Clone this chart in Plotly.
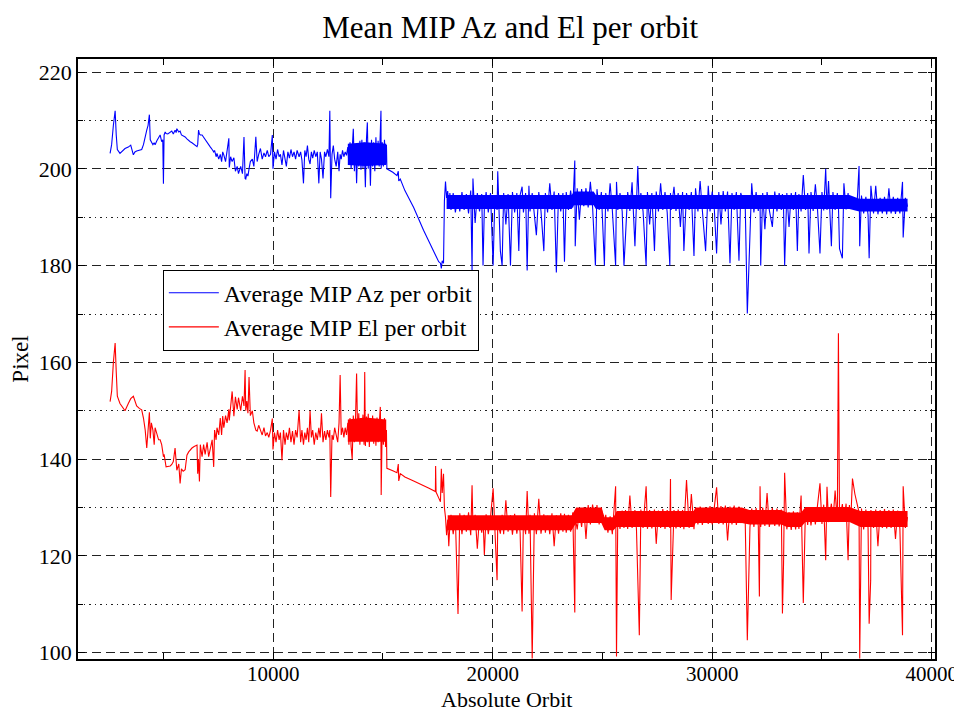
import plotly.graph_objects as go

orbit = [
    2570, 2640, 2720, 2800, 2850, 2900, 3020, 3150, 3250, 3400,
    3510, 3630, 3700, 3780, 3900, 4010, 4090, 4170, 4240, 4300,
    4360, 4400, 4450, 4520, 4580, 4620, 4700, 4780, 4850, 4920,
    4970, 5000, 5030, 5080, 5120, 5200, 5310, 5380, 5450, 5530,
    5580, 5610, 5700, 5760, 5820, 5900, 5990, 6070, 6150, 6220,
    6300, 6400, 6530, 6560, 6600, 6640, 6680, 6760, 6830, 6900,
    6990, 7060, 7140, 7220, 7290, 7330, 7400, 7440, 7520, 7590,
    7650, 7700, 7750, 7830, 7900, 7980, 8000, 8060, 8130, 8210,
    8280, 8360, 8420, 8520, 8600, 8670, 8720, 8750, 8800, 8850,
    8900, 8960, 9050, 9120, 9210, 9270, 9340, 9420, 9500, 9580,
    9650, 9730, 9800, 9880, 9960, 9990, 10060, 10130, 10200, 10270,
    10330, 10400, 10470, 10540, 10600, 10670, 10740, 10810, 10880, 10950,
    11020, 11090, 11180, 11250, 11310, 11380, 11440, 11500, 11560, 11620,
    11680, 11740, 11800, 11870, 11940, 12010, 12080, 12140, 12200, 12270,
    12340, 12400, 12470, 12540, 12580, 12620, 12680, 12740, 12800, 12870,
    12940, 13000, 13050, 13100, 13160, 13220, 13280, 13340, 13400, 13450,
    13500, 13550, 13600, 13650, 13700, 13750, 13800, 13850, 13900, 13950,
    14000, 14040, 14090, 14140, 14170, 14200, 14250, 14290, 14330, 14380,
    14430, 14480, 14530, 14580, 14630, 14680, 14730, 14780, 14830, 14880,
    14910, 14920, 14970, 15020, 15070, 15120, 15160, 15180, 15450, 15640,
    15700, 15720, 15790, 16000, 16400, 16850, 17100, 17390, 17400, 17420,
    17540, 17620, 17660, 17700, 17760, 17800, 17850, 17900, 17950, 18000,
    18050, 18100, 18200, 18300, 18420, 18500, 18600, 18700, 18800, 18900,
    19000, 19060, 19100, 19200, 19300, 19400, 19500, 19560, 19620, 19700,
    19800, 19900, 20020, 20100, 20200, 20230, 20350, 20430, 20500, 20600,
    20700, 20810, 20900, 21000, 21100, 21190, 21250, 21340, 21400, 21500,
    21570, 21650, 21700, 21800, 21900, 21990, 22100, 22200, 22330, 22400,
    22500, 22600, 22700, 22800, 22900, 23000, 23100, 23200, 23270, 23350,
    23450, 23550, 23650, 23740, 23760, 23850, 23950, 24050, 24150, 24250,
    24350, 24450, 24550, 24680, 24750, 24850, 24950, 25090, 25150, 25250,
    25350, 25450, 25600, 25640, 25700, 25800, 25900, 25980, 26050, 26150,
    26250, 26350, 26480, 26550, 26610, 26680, 26750, 26850, 26990, 27050,
    27150, 27250, 27370, 27450, 27550, 27650, 27750, 27850, 27950, 28070,
    28100, 28130, 28260, 28350, 28450, 28550, 28650, 28710, 28830, 28950,
    29050, 29170, 29240, 29350, 29450, 29550, 29700, 29820, 29900, 30000,
    30100, 30200, 30300, 30400, 30500, 30600, 30700, 30810, 30900, 31000,
    31100, 31220, 31300, 31400, 31500, 31600, 31720, 31800, 31900, 32000,
    32100, 32150, 32180, 32210, 32300, 32400, 32500, 32600, 32740, 32850,
    32950, 33050, 33150, 33200, 33250, 33300, 33400, 33500, 33600, 33700,
    33800, 33880, 33950, 34050, 34150, 34250, 34350, 34410, 34500, 34600,
    34700, 34800, 34910, 35000, 35080, 35170, 35230, 35300, 35430, 35500,
    35600, 35700, 35750, 35800, 35930, 36000, 36100, 36190, 36250, 36310,
    36390, 36500, 36600, 36690, 36720, 36800, 36900, 37000, 37100, 37150,
    37220, 37230, 37350, 37450, 37550, 37650, 37750, 37850, 37950, 38050,
    38150, 38250, 38350, 38450, 38550, 38670, 38700, 38800, 38900,
]

az = [
    203.2, 205, 209, 212, 207, 204, 203.2, 203.8, 204.2, 204.5,
    204.9, 202.9, 203.5, 203.7, 203.9, 204, 205, 207, 208, 209,
    211.2, 206, 205.6, 205, 205.4, 205, 205.8, 206.5, 207, 205.6,
    206, 196.9, 207, 207.6, 207.3, 207.2, 207.6, 207.8, 207.2, 208,
    207.5, 208.3, 207.6, 207.8, 207, 206.8, 206.6, 206.2, 205.8, 205.6,
    205.4, 205.1, 204.6, 205, 208, 207.2, 207, 207, 206.5, 206,
    205.6, 205, 204.5, 204, 203.5, 203.8, 202.5, 203.2, 202, 203,
    201.5, 203.5, 202.9, 201.5, 203.5, 206.3, 200.3, 202.5, 201.5, 202.3,
    199.5, 200.5, 199, 200.5, 199, 206.6, 198, 197.9, 199, 198.5,
    200, 201.5, 202, 200.5, 206.6, 201.5, 203, 204.2, 202, 203.3,
    202.5, 203.8, 202.5, 203, 207, 200, 203.5, 202, 204, 202.5,
    203, 200.8, 203.8, 202, 200.5, 203.5, 202.2, 204, 202.5, 203.5,
    202, 203.8, 202.5, 203.5, 201.8, 197, 203.8, 202.5, 204.8, 202,
    201, 203.5, 202.2, 203.8, 202.5, 203.5, 197, 203.5, 202, 198,
    203.5, 202.5, 204, 202.5, 212, 193.9, 203, 204.8, 202, 200.5,
    203.5, 199.5, 203, 202, 203.8, 202.5, 203.5, 202.8, 204.5, 201,
    205.5, 200, 206, 208.3, 199.5, 205, 197, 204.5, 200.5, 205.8,
    199.8, 206, 200.2, 205.5, 201, 196.2, 206.2, 209.6, 200, 205,
    196.5, 206, 200.5, 205.5, 199.5, 206.5, 200.8, 205.8, 200.5, 206,
    212, 200, 205.5, 200.5, 206, 201, 205, 200, 199.3, 198.6,
    199.5, 197.5, 197.9, 195.5, 192, 187.3, 185, 182.2, 182, 182,
    180.8, 180.5, 179.4, 181, 180.5, 193.3, 197.4, 194, 195.4, 192,
    195, 191.5, 195, 191, 194.5, 191.2, 195.2, 191.5, 194.8, 190.8,
    195.5, 179, 198, 188.8, 195, 191.2, 194.8, 180, 192, 195.2,
    191, 195, 180, 194.5, 191.5, 199.5, 183, 180, 195, 188.5,
    194.8, 180, 195.2, 191, 195, 183, 194.6, 196.3, 191, 195,
    179, 196.5, 191.2, 195, 191, 186.3, 195.2, 191.3, 183, 195,
    191, 197, 191.5, 195.3, 178.6, 195, 191.2, 195, 180.8, 195.2,
    191.5, 195.5, 192, 201.7, 184, 196, 189.5, 195.8, 192.3, 196,
    192, 197.3, 192.2, 180, 195.8, 191.5, 195.2, 180, 195, 191.2,
    197, 191.5, 180, 197.3, 191.5, 195, 191.2, 180, 186, 195.2,
    191.3, 197.2, 184, 195.2, 200.6, 191.5, 195, 191.2, 180, 195.2,
    188.5, 195, 183, 195.3, 191.2, 197, 191.5, 195.2, 191, 180,
    195, 191.5, 196.3, 191.3, 195, 188, 195.2, 183, 195, 191.5,
    195.2, 182, 196, 191.2, 197.5, 191.5, 183, 196.5, 191.2, 195.3,
    191.4, 182.5, 195.2, 188.5, 195.4, 191.2, 195.3, 180.5, 195, 191.5,
    195.2, 181, 195, 193.5, 193.5, 170.1, 184, 197, 191, 195.2,
    191.3, 194.5, 193, 180, 195, 187.5, 195.2, 191.5, 188, 195.3,
    191.2, 195, 191.5, 194.8, 192, 180, 195, 188, 195, 191.5,
    195.2, 183, 194.8, 191.2, 198.7, 191.5, 195, 182.5, 195.2, 191.3,
    196.8, 191.5, 182.5, 195.2, 191.4, 200, 191.5, 197.5, 184, 195.2,
    191.5, 195, 192.5, 183.5, 181.5, 197, 191.6, 195, 191.8, 192.8,
    192.8, 192.8, 192.8, 200.6, 184, 194.5, 190.8, 194.2, 190.5, 181.5,
    194, 196.5, 190.8, 196.5, 190.6, 194, 190.8, 194.2, 190.6, 196,
    190.8, 194.2, 190.7, 194, 190.8, 197.3, 185.8, 194, 192.2,
]

el = [
    151.9, 154, 160, 164, 158, 153, 151.5, 150.5, 150, 151.5,
    152.5, 153, 152, 151, 150.5, 150.2, 148.5, 146, 142.3, 147,
    149.7, 144.3, 147.5, 146, 143, 146.5, 145, 144, 144, 143,
    141.5, 140.5, 141, 139.5, 138.4, 138.5, 138.6, 138.9, 139.5, 142.3,
    140, 137.7, 139, 135, 138, 137.5, 137.8, 140.8, 141.5, 142,
    142.3, 142.6, 142.9, 137, 140, 135.4, 143, 140.5, 143, 141,
    143.5, 140.5, 142, 144, 138.4, 146, 144, 146.5, 145, 148.5,
    145, 148.9, 146.5, 149, 147.5, 150.3, 148, 151, 154, 148.9,
    152.9, 150.3, 152.7, 150, 153, 151, 158.4, 150, 152, 149.5,
    157, 149, 150, 147.5, 146, 145.8, 147, 146, 145, 146.5,
    144.8, 145.5, 144.5, 146, 148.4, 142, 145.5, 143.5, 146, 144,
    145.5, 139.8, 146, 143, 145.5, 144, 146.5, 143.5, 145.8, 143,
    146, 144.5, 150.1, 143.5, 146, 143, 145.5, 144, 146.5, 143.5,
    150, 144.5, 146, 143, 145.5, 144, 146.5, 144.5, 149.5, 143.5,
    145.8, 144, 146, 144.5, 146, 132.2, 145, 144, 146.5, 145,
    143.5, 147.5, 157.4, 145, 146.5, 144.5, 146.5, 145, 147.5, 143,
    148.5, 142.5, 140, 149, 143.5, 148, 157.7, 144, 149.5, 143,
    148.5, 144.5, 149.2, 143, 158, 142.7, 148.8, 143.5, 149.4, 142.5,
    148.5, 143.8, 149, 143.2, 148, 142.8, 148.6, 143.5, 149, 150.8,
    143.5, 132.6, 148, 143, 148.5, 142.5, 146, 138.1, 137.6, 137.2,
    139, 135.5, 137, 136.3, 135.5, 134.6, 134, 133.3, 138.6, 133.2,
    132, 131.2, 138, 133, 137, 130, 128, 124.3, 127.5, 122,
    126.5, 128.5, 124.5, 128, 108, 128.8, 124.5, 128.5, 125, 129,
    124.3, 134.6, 126, 128.5, 121.5, 128.2, 124.8, 128, 120.2, 128.6,
    124.5, 128, 134, 124.8, 115, 127, 124.6, 128.5, 124.5, 131.5,
    125, 128.4, 124.4, 128.7, 124.6, 128, 124.8, 108.5, 128, 124.5,
    133.4, 124.6, 128.5, 98.8, 128.8, 124.5, 131.8, 124.6, 128.6, 124.8,
    128.3, 124.5, 128.8, 122, 128.4, 124.6, 128.8, 125, 128.7, 124.8,
    128.5, 125, 129, 108.3, 128, 125.5, 129.5, 126, 130, 123.5,
    130.5, 126.5, 130.6, 126.8, 130.5, 126.5, 130, 126, 128.5, 124.8,
    128.2, 124.5, 134.4, 99.2, 129, 125.6, 129.4, 125.8, 129.5, 125.6,
    132.5, 125.8, 129.5, 125.5, 112.2, 103.6, 129.6, 125.8, 134.4, 125.6,
    129.5, 125.7, 129.6, 122.5, 129.4, 125.8, 129.7, 125.6, 129.5, 125.8,
    135.9, 110.9, 129.5, 125.7, 129.6, 125.8, 129.5, 125.5, 135.7, 125.8,
    132.8, 125.5, 130, 126.5, 130.2, 126.4, 130, 126.6, 130.3, 126.5,
    130.2, 134.2, 126.6, 130.3, 126.5, 130.4, 123.2, 130.2, 126.5, 130.4,
    126.4, 130.2, 126.8, 128.3, 128.3, 102.6, 126, 129.8, 126, 129.9,
    126.2, 111.6, 134.4, 126, 130, 126.2, 133, 126, 129.9, 126.2,
    129.8, 126.1, 129.6, 108.1, 118.4, 137.2, 125.5, 129, 125.4, 129.2,
    125.5, 129, 125.6, 132.5, 110.3, 130, 126.4, 130.1, 126.3, 130,
    126.5, 130.2, 135, 126.6, 130.6, 119.1, 134.3, 127, 130.8, 127.2,
    133.5, 127, 166, 127.2, 130.7, 127.1, 130.8, 119.1, 130.5, 127,
    136, 132.8, 130.6, 129, 98.8, 129.8, 125.5, 129.6, 125.8, 106,
    115, 129.5, 125.8, 129.6, 122, 129.5, 125.8, 129.7, 125.7, 129.5,
    125.8, 129.6, 123.5, 129.4, 125.7, 103.6, 134.4, 125.8, 128,
]

# solid core of the noisy bands (per-orbit scatter too dense to draw point by point)
az_core_orbit = [17900, 23600, 23700, 24600, 24700, 31300, 31700, 36250, 36700, 38900]
az_core_lo = [191.7, 191.7, 192.5, 192.5, 191.7, 191.7, 191.7, 191.7, 191.2, 191.2]
az_core_hi = [194.6, 194.6, 195.3, 195.3, 194.6, 194.6, 194.6, 194.6, 193.8, 193.8]
az_dense_orbit = [13400, 14200, 15150]
az_dense_lo = [200.8, 200.6, 200.8]
az_dense_hi = [205.2, 205.5, 205.2]

el_core_orbit = [17950, 23600, 23800, 24950, 25100, 25500, 25650, 29150, 29250,
                 31350, 31700, 33150, 33400, 34050, 34250, 36250, 36750, 38900]
el_core_lo = [125.3, 125.3, 126.8, 126.8, 125.3, 125.3, 126, 126, 126.8,
              126.8, 126.5, 126.5, 126, 126, 127, 127, 126, 126]
el_core_hi = [128.4, 128.4, 130, 130, 128, 128, 129.3, 129.3, 130,
              130, 129.5, 129.5, 129, 129, 130.1, 130.1, 129.3, 129.3]
el_dense_orbit = [13400, 14200, 15150]
el_dense_lo = [143.6, 143.6, 143.6]
el_dense_hi = [148.2, 148.6, 148.2]

assert len(orbit) == len(az) == len(el)

serif = "Liberation Serif"
BLUE = "#0000ff"
RED = "#ff0000"


def core(xs, lo, hi, color):
    return go.Scatter(x=xs + xs[::-1], y=hi + lo[::-1], mode="lines", fill="toself",
                      fillcolor=color, line=dict(width=0, color=color),
                      showlegend=False, hoverinfo="skip")


fig = go.Figure()
fig.add_trace(core(az_dense_orbit, az_dense_lo, az_dense_hi, BLUE))
fig.add_trace(core(az_core_orbit, az_core_lo, az_core_hi, BLUE))
fig.add_trace(core(el_dense_orbit, el_dense_lo, el_dense_hi, RED))
fig.add_trace(core(el_core_orbit, el_core_lo, el_core_hi, RED))
fig.add_trace(go.Scatter(x=orbit, y=az, mode="lines", name="Average MIP Az per orbit",
                         line=dict(color=BLUE, width=1.1)))
fig.add_trace(go.Scatter(x=orbit, y=el, mode="lines", name="Average MIP El per orbit",
                         line=dict(color=RED, width=1.1)))

# page body has an 8px margin, so the figure is 8px smaller and shifted
fig.update_layout(
    width=954, height=703,
    margin=dict(l=70, r=27, t=51, b=52),
    paper_bgcolor="white", plot_bgcolor="white",
    font=dict(family=serif, size=22, color="black"),
    title=dict(text="Mean MIP Az and El per orbit", x=0.5265, xanchor="center",
               y=0.973, yanchor="middle", font=dict(family=serif, size=31)),
    legend=dict(x=0.099, y=0.649, xanchor="left", yanchor="top",
                bgcolor="white", bordercolor="black", borderwidth=1,
                font=dict(family=serif, size=24), itemwidth=50, tracegroupgap=0),
    showlegend=True,
)
fig.add_annotation(text="Absolute Orbit", x=0.5, xref="paper", y=0, yref="paper",
                   xanchor="center", yanchor="middle", yshift=-40, showarrow=False,
                   font=dict(family=serif, size=22))

fig.update_xaxes(
    range=[1108, 40150], tickvals=[10000, 20000, 30000, 40000], tickformat="d",
    tickfont=dict(family=serif, size=21), ticklabelstandoff=-5,
    showline=True, linecolor="black", linewidth=1.5, mirror="ticks",
    ticks="inside", ticklen=7, tickcolor="black",
    showgrid=True, gridcolor="#222", gridwidth=1.3, griddash="9px,5px",
    zeroline=False,
    minor=dict(tickvals=[5000, 15000, 25000, 35000], ticks="inside", ticklen=6,
               tickcolor="black", showgrid=False),
    automargin=False,
)
fig.update_yaxes(
    range=[98.7, 222.7], tickvals=[100, 120, 140, 160, 180, 200, 220],
    tickfont=dict(family=serif, size=22),
    showline=True, linecolor="black", linewidth=1.5, mirror="ticks",
    ticks="inside", ticklen=7, tickcolor="black",
    showgrid=True, gridcolor="#222", gridwidth=1.3, griddash="9px,5px",
    zeroline=False,
    minor=dict(tickvals=[110, 130, 150, 170, 190, 210], ticks="inside", ticklen=5,
               tickcolor="black", showgrid=True, gridcolor="#222", gridwidth=1.2,
               griddash="1.5px,4px"),
    title=dict(text="Pixel", standoff=4, font=dict(family=serif, size=23)),
    automargin=False,
)

fig.write_html("out.html")
